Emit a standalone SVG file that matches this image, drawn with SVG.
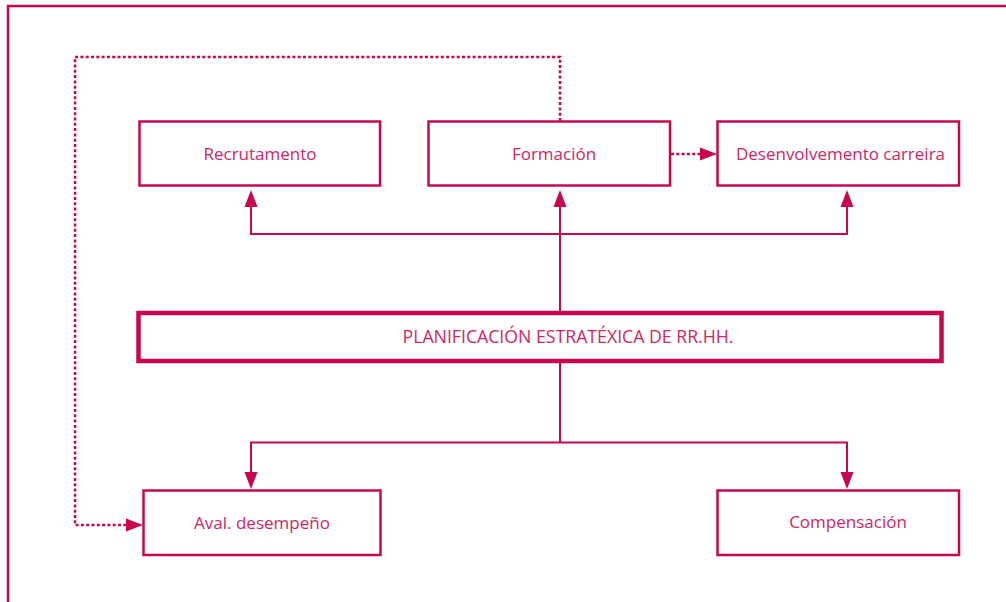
<svg xmlns="http://www.w3.org/2000/svg" width="1006" height="602" viewBox="0 0 1006 602">
<defs>
<style>
.frame{fill:none;stroke:#c8074f;stroke-width:2.5}
.box{fill:#fff;stroke:#c8074f;stroke-width:2.5}
.main{fill:#fff;stroke:#c8074f;stroke-width:4.5}
.ln{fill:none;stroke:#c8074f;stroke-width:2}
.dot{fill:none;stroke:#c8074f;stroke-width:2.5;stroke-dasharray:3 2.3}
.ah{fill:#c8074f}
.t{font-family:"Open Sans","Liberation Sans",sans-serif;font-size:17px;fill:#d02664;text-anchor:middle}
.tm{font-size:17.7px}
</style>
</defs>
<rect width="1006" height="602" fill="#fff"/>
<rect class="frame" x="8" y="6" width="1100" height="700"/>
<g id="connectors">
<path class="dot" d="M560,121 V57 H75 V525 H128"/>
<path class="ah" d="M143,525 L126,518.5 L126,531.5 Z"/>
<path class="dot" d="M671,154 H701"/>
<path class="ah" d="M717,154 L700,147.5 L700,160.5 Z"/>
<path class="ln" d="M560,311 V205"/>
<path class="ah" d="M560,190 L553.5,207 L566.5,207 Z"/>
<path class="ln" d="M251,205 V234 H847 V205"/>
<path class="ah" d="M251,190 L244.5,207 L257.5,207 Z"/>
<path class="ah" d="M847,190 L840.5,207 L853.5,207 Z"/>
<path class="ln" d="M560,363 V442.5 M251,474 V442.5 H847 V474"/>
<path class="ah" d="M251,489 L244.5,472 L257.5,472 Z"/>
<path class="ah" d="M847,489 L840.5,472 L853.5,472 Z"/>
</g>
<g id="recrutamento">
<rect class="box" x="139.5" y="121.5" width="240.5" height="64"/>
<text class="t" x="260" y="159.5">Recrutamento</text>
</g>
<g id="formacion">
<rect class="box" x="428.5" y="121.5" width="241.5" height="64"/>
<text class="t" x="554" y="160">Formación</text>
</g>
<g id="desenvolvemento">
<rect class="box" x="717.5" y="121.5" width="241.5" height="64"/>
<text class="t" x="840.5" y="160">Desenvolvemento carreira</text>
</g>
<g id="planificacion">
<rect class="main" x="138.5" y="313" width="803" height="48"/>
<text class="t tm" x="568" y="342.5">PLANIFICACIÓN ESTRATÉXICA DE RR.HH.</text>
</g>
<g id="aval">
<rect class="box" x="143.5" y="490.5" width="237" height="64.5"/>
<text class="t" x="262" y="528.5">Aval. desempeño</text>
</g>
<g id="compensacion">
<rect class="box" x="717.5" y="490.5" width="241.5" height="64.5"/>
<text class="t" x="848" y="527.5">Compensación</text>
</g>
</svg>
